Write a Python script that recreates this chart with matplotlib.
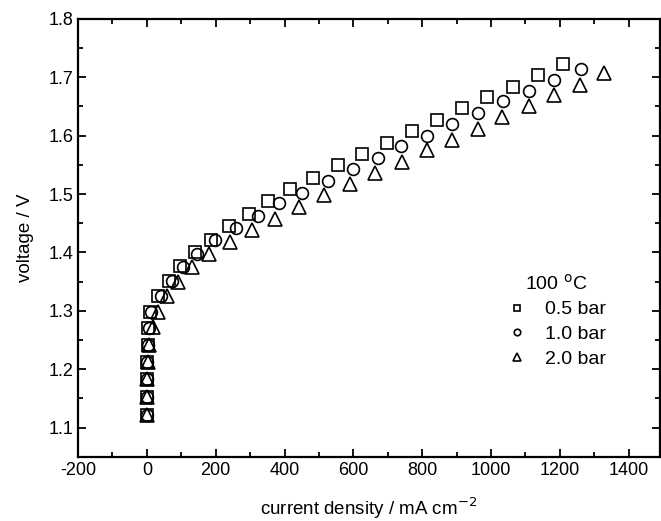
import matplotlib.pyplot as plt
from matplotlib.ticker import MultipleLocator

plt.rcParams['font.family'] = ['Liberation Sans', 'DejaVu Sans']
plt.rcParams['axes.unicode_minus'] = False

# 0.5 bar (squares)
x_05 = [0, 0, 0, 1, 2, 4, 8, 33, 65, 96, 140, 186, 238, 296, 352, 415, 484, 554, 624,
        697, 770, 843, 915, 988, 1063, 1136, 1209]
y_05 = [1.122, 1.153, 1.183, 1.213, 1.241, 1.270, 1.298, 1.325, 1.351, 1.377, 1.401,
        1.422, 1.445, 1.466, 1.488, 1.509, 1.528, 1.550, 1.569, 1.587, 1.608, 1.627,
        1.647, 1.666, 1.684, 1.703, 1.723]

# 1.0 bar (circles)
x_10 = [0, 0, 0, 1, 3, 6, 13, 40, 72, 105, 145, 197, 258, 322, 385, 452, 526, 599, 673,
        739, 815, 888, 961, 1034, 1110, 1184, 1260]
y_10 = [1.122, 1.152, 1.183, 1.212, 1.241, 1.271, 1.298, 1.325, 1.351, 1.375, 1.398,
        1.421, 1.442, 1.462, 1.485, 1.502, 1.523, 1.542, 1.561, 1.582, 1.600, 1.619,
        1.639, 1.659, 1.677, 1.696, 1.714]

# 2.0 bar (triangles)
x_20 = [0, 0, 0, 2, 7, 17, 33, 60, 90, 130, 182, 242, 306, 373, 441, 514, 590, 663,
        740, 813, 888, 961, 1032, 1110, 1183, 1259, 1327]
y_20 = [1.122, 1.152, 1.183, 1.213, 1.241, 1.273, 1.298, 1.326, 1.350, 1.375, 1.397,
        1.418, 1.438, 1.458, 1.478, 1.498, 1.518, 1.536, 1.555, 1.575, 1.592, 1.612,
        1.632, 1.650, 1.669, 1.686, 1.707]

fig = plt.figure(figsize=(6.61, 5.21), dpi=100)
ax = fig.add_axes([0.118, 0.123, 0.88, 0.841])

style = dict(linestyle='none', markerfacecolor='none', markeredgecolor='black',
             markeredgewidth=1.2)
ax.plot(x_05, y_05, marker='s', markersize=8, label='0.5 bar', **style)
ax.plot(x_10, y_10, marker='o', markersize=8.5, label='1.0 bar', **style)
ax.plot(x_20, y_20, marker='^', markersize=9.5, label='2.0 bar', **style)

ax.set_xlim(-200, 1490)
ax.set_ylim(1.05, 1.8)
ax.xaxis.set_major_locator(MultipleLocator(200))
ax.xaxis.set_minor_locator(MultipleLocator(100))
ax.yaxis.set_major_locator(MultipleLocator(0.1))
ax.yaxis.set_minor_locator(MultipleLocator(0.05))
ax.yaxis.set_major_formatter(plt.FormatStrFormatter('%.1f'))
ax.tick_params(which='both', direction='in', top=True, right=True, labelsize=13,
               width=1.3)
ax.tick_params(which='major', length=6)
ax.tick_params(which='minor', length=3.5)
for s in ax.spines.values():
    s.set_linewidth(1.6)

ax.set_xlabel('current density / mA cm$^{-2}$', fontsize=13.5, labelpad=12)
ax.set_ylabel('voltage / V', fontsize=13.5, labelpad=10)

leg = ax.legend(loc='upper left', bbox_to_anchor=(0.722, 0.44), frameon=False,
                title='100 $^{\\rm o}$C', fontsize=14, title_fontsize=14,
                markerscale=0.55, handlelength=1.0, handletextpad=0.9,
                labelspacing=0.36, borderpad=0)

fig.savefig('out.png', dpi=100)
